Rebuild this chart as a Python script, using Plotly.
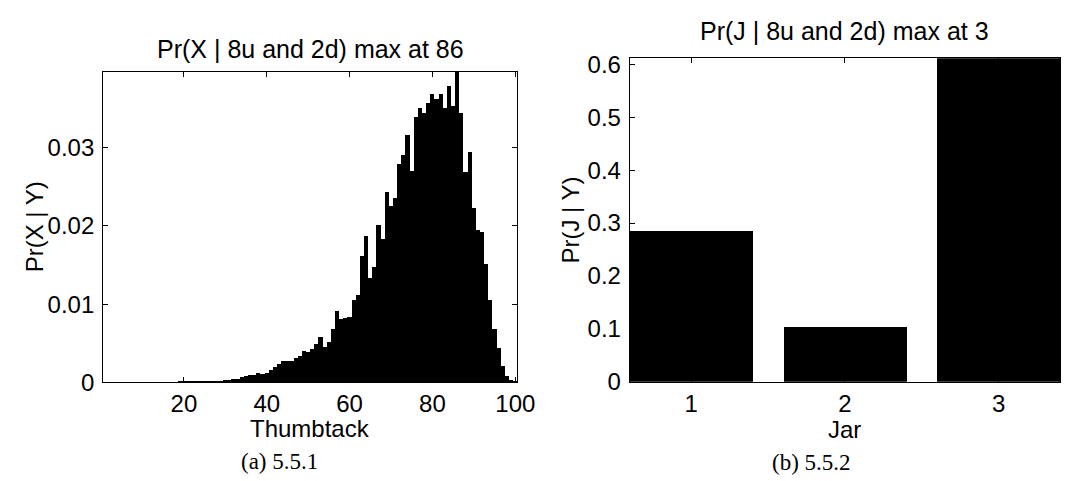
import plotly.graph_objects as go

W, H = 1081, 481

# ---------------- data ----------------
thumbtack = list(range(1, 101))
pr_x_given_y = [
    0.0, 0.0, 0.0, 0.0, 0.0, 0.00001, 0.00001, 0.00001, 0.00001, 0.00002,
    0.00002, 0.00002, 0.00003, 0.00003, 0.00004, 0.00004, 0.00005, 0.00006, 0.00007, 0.00008,
    0.00009, 0.0001, 0.0001, 0.00012, 0.00014, 0.00016, 0.00018, 0.0002, 0.00022, 0.0003,
    0.00032, 0.0004, 0.00045, 0.0007, 0.0008, 0.0009, 0.0009, 0.0012, 0.0011, 0.0012,
    0.0016, 0.0020, 0.0024, 0.0027, 0.0027, 0.0028, 0.0031, 0.0034, 0.0040, 0.0039,
    0.0043, 0.0049, 0.0058, 0.0046, 0.0052, 0.0069, 0.0091, 0.0081, 0.0083, 0.0084,
    0.0105, 0.0112, 0.0162, 0.0187, 0.0134, 0.0148, 0.0202, 0.0184, 0.0244, 0.0226,
    0.0236, 0.0280, 0.0291, 0.0316, 0.0271, 0.0340, 0.0351, 0.0345, 0.0357, 0.0369,
    0.0363, 0.0369, 0.0351, 0.0379, 0.0354, 0.0397, 0.0344, 0.0269, 0.0295, 0.0223,
    0.0195, 0.0193, 0.0152, 0.0106, 0.0068, 0.0044, 0.0021, 0.0008, 0.0003, 0.0001,
]
left_xticks = [20, 40, 60, 80, 100]
left_yticks = [0, 0.01, 0.02, 0.03]

jars = [1, 2, 3]
pr_j_given_y = [0.2853, 0.1031, 0.6116]
right_yticks = [0, 0.1, 0.2, 0.3, 0.4, 0.5, 0.6]

title_left = "Pr(X | 8u and 2d) max at 86"
title_right = "Pr(J | 8u and 2d) max at 3"
xlabel_left = "Thumbtack"
ylabel_left = "Pr(X | Y)"
xlabel_right = "Jar"
ylabel_right = "Pr(J | Y)"
caption_left = "(a) 5.5.1"
caption_right = "(b) 5.5.2"

# ---------------- figure ----------------
FONT = "Liberation Sans, Arial, Helvetica, sans-serif"
FS = 24

fig = go.Figure()
fig.add_trace(go.Bar(x=thumbtack, y=pr_x_given_y, width=1.0,
                     marker=dict(color="black", line=dict(width=0)),
                     xaxis="x", yaxis="y", showlegend=False))
fig.add_trace(go.Bar(x=jars, y=pr_j_given_y, width=0.8,
                     marker=dict(color="black", line=dict(width=0)),
                     xaxis="x2", yaxis="y2", showlegend=False))

def px(x):
    return x / W

def py(y):
    return 1 - y / H

axis_common = dict(showline=True, linecolor="black", linewidth=1, mirror="ticks",
                   ticks="inside", ticklen=5, tickcolor="black", tickwidth=1,
                   showgrid=False, zeroline=False,
                   tickfont=dict(family=FONT, size=FS, color="black"))

fig.update_layout(
    width=W, height=H,
    margin=dict(l=0, r=0, t=0, b=0),
    paper_bgcolor="white", plot_bgcolor="white",
    bargap=0,
    xaxis=dict(domain=[px(96.7), px(518)], range=[0.5, 100.5],
               tickvals=left_xticks, anchor="y", **axis_common),
    yaxis=dict(domain=[py(383.3), py(59.3)], range=[0, 0.0397],
               tickvals=left_yticks, anchor="x", ticklabelstandoff=3, **axis_common),
    xaxis2=dict(domain=[px(632.3), px(1070)], range=[0.6, 3.4],
                tickvals=jars, anchor="y2", **axis_common),
    yaxis2=dict(domain=[py(382.7), py(45)], range=[0, 0.6116],
                tickvals=right_yticks, anchor="x2", ticklabelstandoff=3, **axis_common),
)

def ann(text, x, y, size=FS, family=FONT, angle=0):
    fig.add_annotation(text=text, x=px(x), y=py(y), xref="paper", yref="paper",
                       xanchor="center", yanchor="middle", showarrow=False,
                       textangle=angle, font=dict(family=family, size=size, color="black"))

ann(title_left, 307.4, 35, size=25)
ann(title_right, 851, 17, size=25)
ann(xlabel_left, 307.4, 431)
ann(xlabel_right, 851, 433)
ann(ylabel_left, 27, 221, angle=-90)
ann(ylabel_right, 572, 214, angle=-90)
SERIF = "Liberation Serif, Times New Roman, serif"
ann(caption_left, 276, 466, size=23, family=SERIF)
ann(caption_right, 817, 467, size=23, family=SERIF)

fig.write_html("out.html")
